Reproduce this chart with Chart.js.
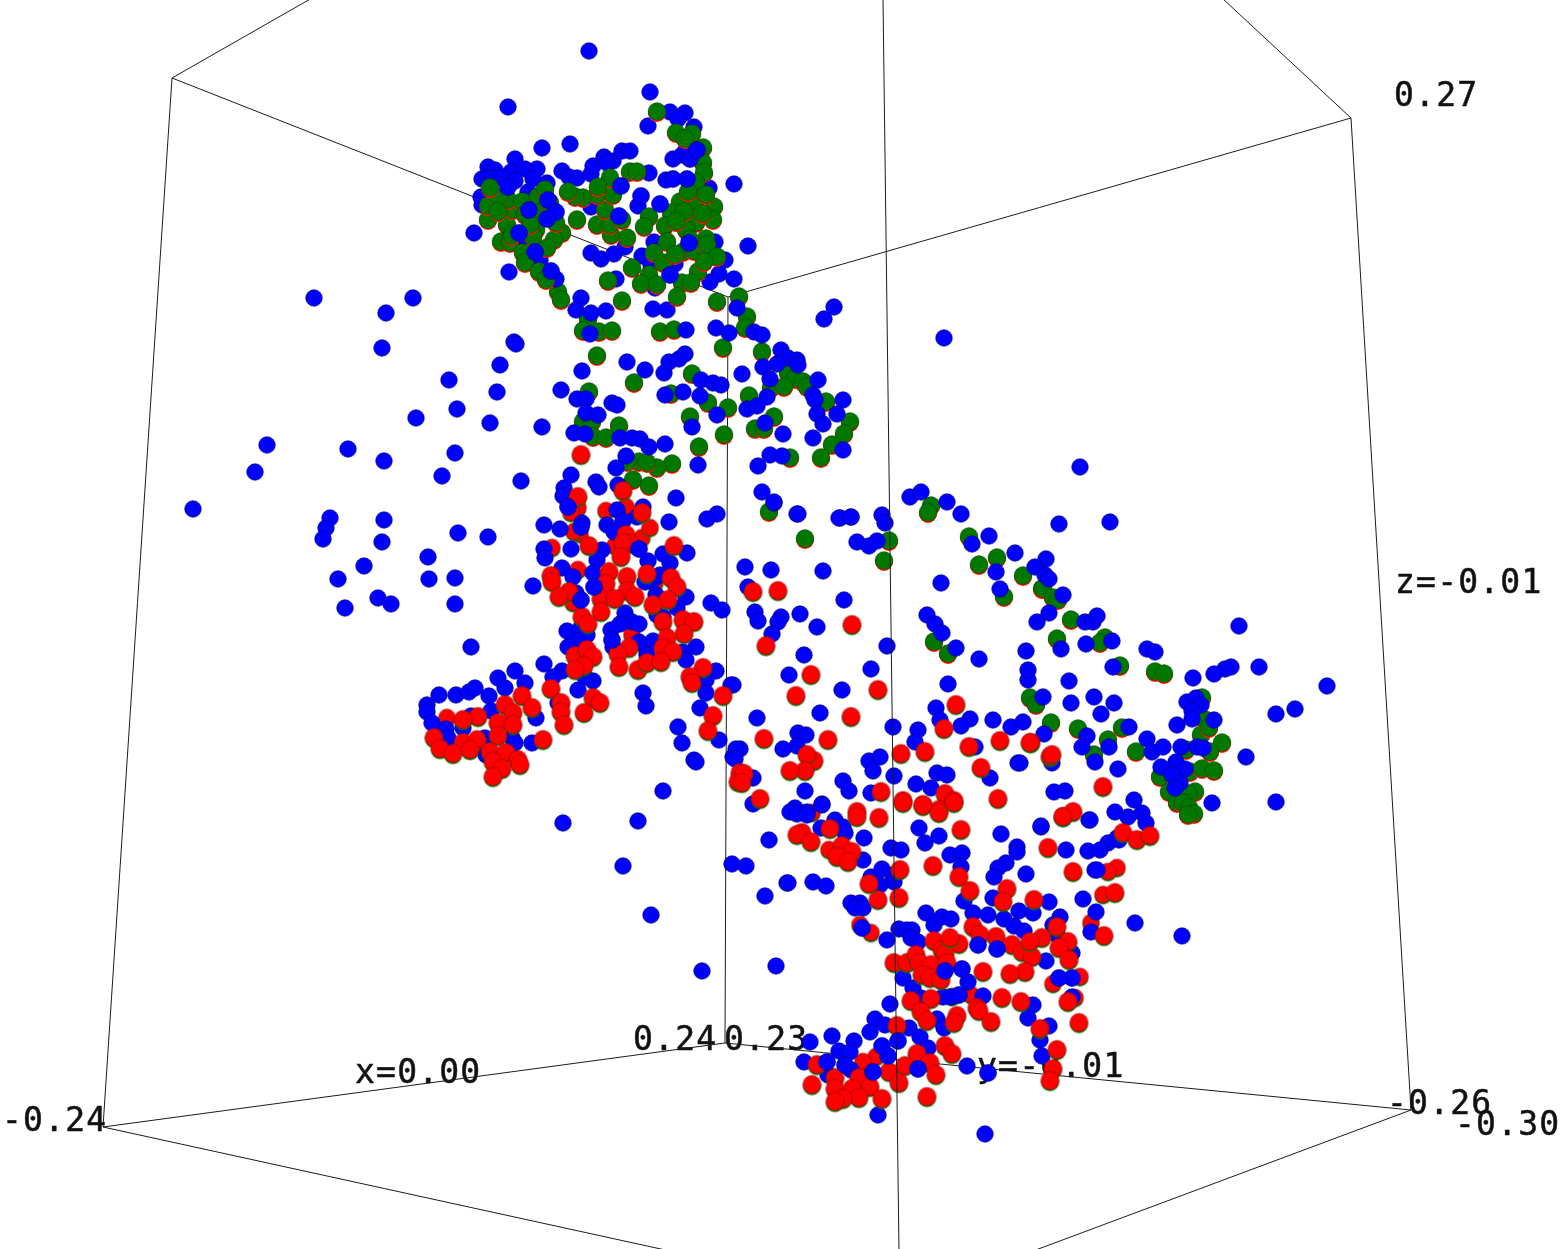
<!DOCTYPE html>
<html lang="en">
<head>
<meta charset="utf-8" />
<title>3D scatter</title>
<script src="https://cdn.jsdelivr.net/npm/chart.js"></script>
<style>
    html, body { margin: 0; padding: 0; background: #fff; }
    canvas { display: block; }
</style>
</head>
<body>
<canvas id="chart" width="1568" height="1249"></canvas>
<script>
// projected box edges
const backEdges = [
    [[172,78],[312,-2]], [[172,78],[728,297]], [[728,297],[1351,118]], [[1351,118],[1222,-2]],
    [[1351,118],[1411,1110]], [[172,78],[103,1127]], [[728,297],[725,1043]],
    [[725,1043],[103,1127]], [[725,1043],[1411,1110]], [[103,1127],[670,1251]], [[1411,1110],[1033,1251]]
];
const frontEdge = [[883,-2],[899,1251]];

const labels = ["0.27", "z=-0.01", "-0.24", "x=0.00", "0.24", "0.23", "y=-0.01", "-0.26", "-0.30"];
const labelX = [1394, 1395, 2, 355, 633, 724, 977, 1387, 1455];
const labelY = [97, 584, 1122, 1074, 1041, 1041, 1068, 1105, 1126];

const blueTop = [[589,51],[650,92],[508,107],[648,126],[670,112],[685,113],[678,119],[694,127],[542,148],[570,144],[734,184],[748,246],
[515,159],[488,167],[495,170],[511,172],[525,169],[537,169],[482,179],[493,178],[502,178],[515,181],[533,179],[547,183],[528,192],[481,197],[482,205],[527,217],[474,233],[519,243],[540,260],[509,272],[556,279],
[562,171],[569,177],[577,178],[591,174],[593,166],[604,157],[613,161],[607,163],[622,151],[630,151],[649,173],[638,206],[591,207],[591,253],[601,259],[614,254],[625,247],
[673,159],[682,155],[686,150],[666,180],[709,188],[654,242],[642,256],[651,265],[675,264],[715,242],[725,260],[719,274],[710,282],[734,279],[655,288],[616,279]];
const blueUpper = [[581,298],[576,310],[591,313],[606,311],[653,309],[667,310],[686,330],[716,328],[729,333],[737,308],[754,332],[762,335],[834,307],[824,319],[590,334],[514,342],
[781,350],[788,358],[797,360],[798,365],[777,364],[763,367],[742,374],[770,379],[818,380],[767,397],[813,395],[815,400],[843,400],[837,414],[817,414],[823,424],[783,434],[813,438],[843,450],[770,455],[782,456],[758,466],[762,492],[774,503],[797,514],[840,518],[851,517],
[627,362],[582,371],[645,370],[664,373],[669,362],[679,359],[685,354],[561,390],[577,399],[586,399],[612,403],[617,405],[701,380],[713,383],[721,385],[683,392],[665,395],[700,396],[717,415],[692,427],[747,409],[757,406],[765,423],[586,413],[598,415],[542,427],[574,433],[585,434],[620,438],[632,438],[640,439],[649,447],[665,444],[626,456],[616,468],[698,465]];
const blueSparse = [[314,298],[413,298],[386,313],[382,348],[516,344],[500,365],[449,380],[497,392],[457,409],[416,418],[490,423],[267,445],[348,449],[255,472],[384,461],[455,453],[442,476],[193,509],[521,481],[330,518],[384,520],[326,528],[323,539],[458,533],[382,542],[488,537],[364,566],[428,557],[429,579],[455,578],[338,579],[345,608],[378,598],[391,604],[455,604],[471,647],[944,338],[1080,467],[1110,522],[1059,524],
[638,821],[663,791],[563,823],[623,866],[651,915],[702,971],[776,966],[732,864],[746,866],[769,840],[765,896],[787,883],[813,882],[826,886],[1182,936],[1135,923],[1276,802],[1246,757],[694,760]];
const blueLeft = [[571,475],[564,488],[563,496],[596,482],[599,487],[618,485],[676,498],[717,514],[707,519],[643,507],[607,525],[617,510],[623,521],[637,517],[614,532],[669,522],[544,525],[560,529],[582,523],
[544,549],[545,558],[571,549],[602,550],[597,560],[648,561],[663,554],[670,563],[687,553],[562,568],[573,577],[593,573],[533,586],[576,593],[653,580],[660,575],[645,582],[656,595],[686,597],[677,608],[711,603],[722,610],[657,615],[663,617],[625,613],[632,622],[620,624],[639,624],[611,630],[567,631],[580,629],[587,635],[577,641],[568,647],[613,647],[639,642],[653,641],[647,655],[696,647],[683,652],[686,660],
[544,664],[562,671],[553,677],[593,681],[585,677],[515,671],[498,678],[505,688],[525,683],[439,695],[456,695],[469,692],[475,688],[489,696],[578,690],[643,693],[646,706],[716,671],[706,680],[731,685],[706,693],[700,708],[427,705],[427,712],[491,711],[558,703],[471,716],[536,718],[432,723],[446,729],[463,728],[485,738],[512,738],[448,738],[515,743],[532,743],[678,727],[682,743],[719,740],[696,762],[486,755],[733,757],[740,749]];
const blueMiddle = [[774,502],[798,514],[839,518],[851,517],[882,515],[885,523],[910,497],[921,492],[947,502],[961,514],[857,542],[869,546],[877,541],[972,544],[989,536],[1015,553],[996,572],[1000,589],[941,583],[745,567],[771,570],[823,571],[748,587],[844,600],[755,612],[758,621],[781,617],[778,622],[800,614],[817,627],[772,634],[927,615],[935,624],[942,633],[956,648],[979,659],[887,646],[804,655],[871,669],[789,675],[733,685],[842,690],[948,684],[820,713],[757,718],[936,708],[940,720],[970,719],[961,726],[993,720],[1011,727],[1023,722],[893,727],[918,730],[915,742],[975,747],[798,733],[806,735],[797,746],[783,749],[736,749],[735,759],[869,761],[880,757],[873,771],[894,776],[937,773],[947,775],[990,778],[1018,763],[916,784],[931,788],[753,778],[843,781],[849,791],[871,793],[805,791],[753,804],[822,804],[795,808],[807,812]];
const blueRight = [[1046,559],[1035,567],[1045,575],[1049,579],[1063,595],[1049,613],[1037,622],[1085,622],[1093,622],[1097,616],[1086,644],[1061,649],[1026,651],[1112,641],[1147,649],[1155,652],[1239,626],[1259,667],[1231,667],[1225,669],[1214,674],[1193,678],[1327,686],[1295,709],[1276,714],[1069,681],[1113,667],[1028,680],[1028,670],[1043,697],[1071,703],[1094,697],[1114,703],[1101,714],[1044,734],[1087,736],[1082,747],[1109,747],[1129,727],[1147,739],[1152,752],[1163,747],[1177,725],[1181,747],[1214,720],[1187,702],[1196,698],[1201,705],[1192,711],[1192,719],[1197,747],[1203,748],[1212,803],[1176,762],[1161,767],[1185,769],[1172,775],[1180,783],[1175,788],[1095,762],[1052,763],[1118,769],[1020,763],[1054,792],[1065,791],[1134,800],[1115,812],[1128,817],[1142,813],[1146,823],[1089,820],[1041,827],[1108,843],[1119,840]];
const blueBottom = [[790,812],[797,814],[807,815],[822,805],[821,828],[835,820],[843,827],[845,833],[864,838],[863,860],[891,848],[901,850],[919,828],[939,836],[925,843],[950,855],[962,853],[961,867],[1001,834],[1041,826],[1017,847],[1017,852],[1006,863],[998,868],[994,877],[1026,874],[1066,850],[1088,851],[1100,850],[1117,838],[1090,820],[1095,870],[1097,870],[1083,899],[1096,912],[1091,932],[788,883],[871,877],[882,869],[893,875],[880,885],[894,882],[851,903],[860,903],[855,908],[863,908],[887,940],[899,929],[907,930],[912,930],[911,938],[918,942],[926,913],[934,925],[942,917],[951,919],[964,901],[973,913],[988,915],[993,898],[1004,919],[1014,926],[1019,911],[1033,913],[1024,931],[1049,902],[1060,917],[1053,925],[1057,935],[1046,961],[1072,953],[903,978],[913,988],[921,998],[943,997],[951,997],[968,982],[983,996],[1072,997],[1033,1005],[1028,1018],[1049,1026],[890,1004],[875,1019],[885,1025],[870,1032],[909,1028],[920,1037],[928,1048],[937,1019],[944,1028],[1040,1040],[1042,1056],[832,1036],[810,1042],[854,1041],[839,1051],[850,1052],[804,1062],[828,1075],[851,1070],[967,1066],[878,1115],[985,1134]];
// blue marks lying over the red and green ones
const blueFront = [[508,187],[548,200],[529,210],[556,212],[547,219],[519,233],[535,252],[551,271],[621,186],[619,216],[641,196],[660,204],[670,275],[689,243],[690,159],[697,150],[673,179],[687,179],
[581,527],[568,507],[639,549],[594,587],[581,600],[612,640],[862,928],[945,971],[1072,978],[1059,978],[997,949],[978,945],[959,995],[888,1056],[882,1046],[898,1041],[918,1069],[873,1072],[827,1062],[845,1065],[962,969],[988,1073]];

const redUnder = [[552,548],[578,508],[571,513],[580,534],[574,532],[606,511],[626,507],[615,546],[642,538],[650,528],[578,570],[573,603],[632,635],[646,648],[655,583],[470,750],[447,718],[812,813],[829,850],[860,925],[871,933],[971,995],[952,997],[1103,895],[1117,868],[1108,872],[1091,923],[1053,984],[1080,977],[1075,998],[876,1057],[863,1062]];
const redLeft = [[581,455],[578,497],[642,513],[623,491],[626,535],[630,544],[623,543],[589,546],[674,546],[621,557],[551,576],[552,582],[609,572],[627,577],[606,584],[647,574],[671,578],[677,587],[569,592],[559,597],[627,591],[635,597],[601,599],[615,599],[668,600],[653,605],[601,612],[582,617],[588,624],[663,622],[683,620],[694,622],[684,634],[667,638],[629,648],[618,654],[663,648],[673,652],[575,656],[587,650],[593,657],[584,666],[575,670],[619,667],[638,670],[647,663],[661,662],[703,668],[690,677],[692,683],[551,689],[522,696],[723,696],[561,703],[593,698],[600,703],[584,713],[505,705],[532,708],[513,713],[561,712],[478,717],[463,720],[498,723],[513,725],[564,725],[713,716],[708,731],[434,738],[498,736],[543,740],[463,743],[477,740],[440,749],[470,750],[490,752],[506,753],[453,754],[518,760],[520,765],[493,762],[502,769],[493,777],[740,773],[738,782]];
const redMiddle = [[753,592],[778,591],[852,625],[766,646],[811,675],[796,696],[878,690],[851,717],[828,740],[764,739],[956,705],[944,729],[901,754],[925,752],[969,747],[1000,741],[1031,743],[981,768],[814,761],[807,755],[805,771],[790,771],[744,774],[742,783],[881,792],[760,799],[903,801],[945,794],[954,801],[923,805],[998,799],[939,810],[857,812],[1050,757],[1030,743],[1052,755],[1103,787],[1063,817],[1073,812],[1123,833],[1137,840],[1150,836]];
const redBottom = [[857,817],[879,818],[830,829],[802,833],[797,835],[811,842],[842,846],[852,852],[837,857],[848,862],[903,803],[923,806],[939,813],[954,803],[961,830],[1048,848],[1063,817],[1073,872],[933,866],[900,870],[959,877],[970,891],[1007,889],[1003,902],[1034,900],[878,900],[899,898],[869,884],[973,927],[996,937],[980,935],[959,944],[934,941],[942,950],[945,954],[950,938],[1012,945],[1022,952],[1032,957],[1042,938],[1030,942],[1057,927],[1068,942],[1059,948],[1069,960],[1104,936],[1115,893],[894,963],[907,963],[916,955],[919,963],[931,965],[922,975],[930,978],[941,980],[947,963],[983,972],[1025,972],[1010,974],[911,1001],[931,999],[1002,998],[1021,1002],[1068,1002],[977,1008],[979,1011],[921,1012],[927,1021],[957,1016],[954,1023],[991,1022],[1079,1023],[897,1026],[1040,1029],[945,1046],[952,1054],[1057,1050],[1053,1069],[1050,1081],[917,1054],[930,1063],[905,1066],[936,1075],[927,1097],[889,1072],[899,1083],[817,1065],[812,1085],[835,1078],[835,1089],[859,1078],[870,1087],[852,1089],[859,1098],[843,1099],[835,1102],[882,1099]];

const greenTop = [[657,112],[676,133],[692,134],[685,139],[703,148],[703,163],[704,173],[696,183],[695,202],[680,202],[671,213],[714,207],[713,220],[696,223],[686,230],[665,226],[649,217],[644,227],[706,239],[667,242],[683,252],[694,251],[707,245],[654,253],[717,257],[632,268],[663,263],[698,272],[649,275],[641,284],[657,285],[682,283],[691,283],[677,297],[608,281],[688,192],[706,195],[684,212],[702,214],[676,222],[690,240],[675,255],[704,262],
[627,238],[611,235],[597,225],[577,220],[610,225],[605,210],[613,195],[622,220],[597,195],[583,198],[575,197],[568,192],[610,178],[598,187],[630,172],[637,172],
[488,220],[488,206],[507,225],[513,210],[508,200],[499,198],[490,188],[522,202],[538,197],[540,213],[550,203],[536,230],[533,237],[562,233],[554,240],[547,248],[501,242],[510,243],[523,253],[525,263],[539,272],[546,280],[556,223],[525,215],[512,236],[498,212],[530,225],[545,190]];
const greenUpper = [[622,301],[558,292],[561,300],[717,302],[739,297],[747,317],[745,328],[588,319],[583,331],[599,332],[612,331],[660,332],[674,330],[723,348],[762,352],[597,356],[692,374],[634,383],[589,392],[671,394],[708,403],[728,408],[690,417],[749,396],[788,373],[795,379],[803,382],[807,387],[771,388],[784,387],[826,402],[850,422],[844,434],[832,445],[821,458],[774,417],[755,429],[764,429],[724,435],[699,447],[790,458],[583,422],[592,422],[619,426],[593,437],[606,438],[672,464],[657,468],[639,462],[647,463],[627,462],[633,480],[649,486],[769,512]];
const greenRight = [[805,539],[931,506],[928,513],[889,541],[884,561],[969,537],[997,558],[979,565],[1023,576],[1004,597],[1042,589],[934,642],[948,654],[1043,589],[1053,598],[1058,600],[1071,620],[1057,639],[1105,638],[1100,643],[1120,666],[1155,672],[1164,674],[1030,698],[1036,705],[1051,723],[1078,729],[1108,740],[1122,728],[1136,752],[1186,750],[1201,735],[1205,720],[1209,728],[1202,698],[1222,743],[1210,752],[1190,772],[1202,769],[1214,771],[1160,777],[1169,792],[1195,792],[1188,794],[1177,803],[1183,803],[1189,808],[1194,814],[1188,815],[1094,755]];

const toPoints = list => list.map(p => ({x: p[0], y: p[1]}));

// round marker with a crescent of the twin point showing underneath
function marker(fill, rim, r) {
    const size = Math.ceil(r * 2 + 4);
    const c = document.createElement('canvas');
    c.width = size;
    c.height = size;
    const g = c.getContext('2d');
    g.fillStyle = rim;
    g.beginPath();
    g.arc(size / 2, size / 2 + 1, r, 0, Math.PI * 2);
    g.fill();
    g.fillStyle = fill;
    g.strokeStyle = 'rgba(0,0,0,0.45)';
    g.lineWidth = 0.6;
    g.beginPath();
    g.arc(size / 2, size / 2 - 0.5, r, 0, Math.PI * 2);
    g.fill();
    g.stroke();
    return c;
}

const allBlue = [].concat(blueTop, blueUpper, blueSparse, blueLeft, blueMiddle, blueRight, blueBottom);
const allRed = [].concat(redLeft, redMiddle, redBottom);
const allGreen = [].concat(greenUpper, greenRight);

function scatterSet(list, fill, border, r, order, style) {
    return {
        data: toPoints(list),
        showLine: false,
        order: order,
        pointStyle: style || 'circle',
        pointRadius: r,
        pointBackgroundColor: fill,
        pointBorderColor: border,
        pointBorderWidth: 0.6
    };
}

function edgeSet(edge, order) {
    return {
        data: toPoints(edge),
        showLine: true,
        order: order,
        borderColor: '#1c1c1c',
        borderWidth: 1,
        pointRadius: 0
    };
}

const boxLabels = {
    id: 'boxLabels',
    beforeDatasetsDraw(chart) {
        const ctx = chart.ctx;
        ctx.save();
        ctx.font = '33px "DejaVu Sans Mono"';
        ctx.letterSpacing = '1.2px';
        ctx.fillStyle = '#111';
        ctx.strokeStyle = '#111';
        ctx.lineWidth = 0.5;
        ctx.textBaseline = 'middle';
        labels.forEach((text, i) => {
            const px = chart.scales.x.getPixelForValue(labelX[i]);
            const py = chart.scales.y.getPixelForValue(labelY[i]);
            ctx.fillText(text, px, py);
            ctx.strokeText(text, px, py);
        });
        ctx.restore();
    }
};

new Chart(document.getElementById('chart'), {
    type: 'scatter',
    data: {
        datasets: [
            edgeSet(frontEdge, 0),
            scatterSet(blueFront, '#0000ff', '#00006a', 8.5, 1),
            scatterSet(allRed, '#ff0000', '#000', 9.2, 2, marker('#ff0000', '#0a7a0a', 9.2)),
            scatterSet(greenTop, '#007f00', '#000', 9, 3, marker('#007800', '#ff2000', 9)),
            scatterSet(allBlue, '#0000ff', '#00006a', 8.3, 4),
            scatterSet(redUnder, '#ff0000', '#000', 8.5, 5, marker('#ff0000', '#0a7a0a', 8.5)),
            scatterSet(allGreen, '#007f00', '#000', 9, 6, marker('#007800', '#ff2000', 9))
        ].concat(backEdges.map(e => edgeSet(e, 7)))
    },
    options: {
        responsive: false,
        animation: false,
        layout: { padding: 0, autoPadding: false },
        scales: {
            x: { type: 'linear', display: false, min: 0, max: 1568 },
            y: { type: 'linear', display: false, min: 0, max: 1249, reverse: true }
        },
        plugins: { legend: { display: false }, tooltip: { enabled: false } }
    },
    plugins: [boxLabels]
});
</script>
</body>
</html>
